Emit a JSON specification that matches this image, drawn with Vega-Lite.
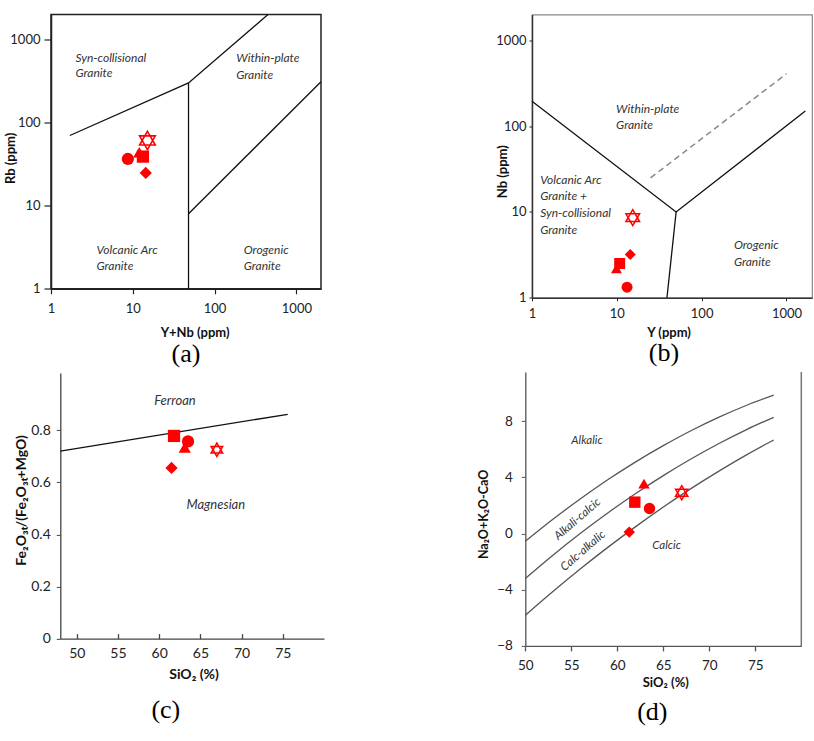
{
  "$schema": "https://vega.github.io/schema/vega-lite/v6.json",
  "padding": {"left": 3, "top": 10.5, "right": 0, "bottom": 0},
  "background": "white",
  "config": {
    "view": {"stroke": null},
    "axis": {"grid": false, "labelFlush": false, "labelFont": "Lato", "titleFont": "Lato", "titleFontWeight": "bold", "labelColor": "#222", "titleColor": "#111", "domainColor": "#222", "tickColor": "#222"},
    "title": {"font": "Liberation Serif", "fontSize": 26, "fontWeight": "normal", "color": "#000"}
  },
  "datasets": {
    "pts": [
      {"panel": "a", "s": "triangle", "x": 12, "y": 44},
      {"panel": "a", "s": "square", "x": 13.3, "y": 39},
      {"panel": "a", "s": "circle", "x": 8.7, "y": 36.5},
      {"panel": "a", "s": "diamond", "x": 14.4, "y": 24.8},
      {"panel": "a", "s": "star", "x": 15.1, "y": 61},
      {"panel": "b", "s": "triangle", "x": 9.9, "y": 2.19},
      {"panel": "b", "s": "square", "x": 10.8, "y": 2.51},
      {"panel": "b", "s": "circle", "x": 13.2, "y": 1.33},
      {"panel": "b", "s": "diamond", "x": 14.4, "y": 3.2},
      {"panel": "b", "s": "star", "x": 15.4, "y": 8.6},
      {"panel": "c", "s": "triangle", "x": 63.1, "y": 0.734},
      {"panel": "c", "s": "square", "x": 61.8, "y": 0.778},
      {"panel": "c", "s": "circle", "x": 63.5, "y": 0.757},
      {"panel": "c", "s": "diamond", "x": 61.5, "y": 0.655},
      {"panel": "c", "s": "star", "x": 67.0, "y": 0.725},
      {"panel": "d", "s": "triangle", "x": 62.9, "y": 3.55},
      {"panel": "d", "s": "square", "x": 61.9, "y": 2.23},
      {"panel": "d", "s": "circle", "x": 63.5, "y": 1.78},
      {"panel": "d", "s": "diamond", "x": 61.3, "y": 0.1},
      {"panel": "d", "s": "star", "x": 67.0, "y": 2.9}
    ],
    "lines": [
      {"panel": "a", "g": "a1", "o": 1, "x": 1.7, "y": 70},
      {"panel": "a", "g": "a1", "o": 2, "x": 48, "y": 300},
      {"panel": "a", "g": "a1", "o": 3, "x": 450, "y": 2000},
      {"panel": "a", "g": "a2", "o": 1, "x": 48, "y": 300},
      {"panel": "a", "g": "a2", "o": 2, "x": 48, "y": 1},
      {"panel": "a", "g": "a3", "o": 1, "x": 48, "y": 8},
      {"panel": "a", "g": "a3", "o": 2, "x": 2000, "y": 310},
      {"panel": "b", "g": "b1", "o": 1, "x": 1, "y": 195},
      {"panel": "b", "g": "b1", "o": 2, "x": 50, "y": 10},
      {"panel": "b", "g": "b1", "o": 3, "x": 1670, "y": 150},
      {"panel": "b", "g": "b2", "o": 1, "x": 50, "y": 10},
      {"panel": "b", "g": "b2", "o": 2, "x": 39, "y": 1},
      {"panel": "b", "g": "bd", "o": 1, "x": 25, "y": 25},
      {"panel": "b", "g": "bd", "o": 2, "x": 1000, "y": 408},
      {"panel": "c", "g": "c1", "o": 1, "x": 48, "y": 0.72},
      {"panel": "c", "g": "c1", "o": 2, "x": 75.6, "y": 0.861},
      {"panel": "d", "g": "d1", "o": 1, "x": 50, "y": -0.56},
      {"panel": "d", "g": "d1", "o": 2, "x": 53, "y": 1.01},
      {"panel": "d", "g": "d1", "o": 3, "x": 56, "y": 2.47},
      {"panel": "d", "g": "d1", "o": 4, "x": 59, "y": 3.84},
      {"panel": "d", "g": "d1", "o": 5, "x": 62, "y": 5.10},
      {"panel": "d", "g": "d1", "o": 6, "x": 65, "y": 6.25},
      {"panel": "d", "g": "d1", "o": 7, "x": 68, "y": 7.31},
      {"panel": "d", "g": "d1", "o": 8, "x": 71, "y": 8.26},
      {"panel": "d", "g": "d1", "o": 9, "x": 74, "y": 9.11},
      {"panel": "d", "g": "d1", "o": 10, "x": 77, "y": 9.85},
      {"panel": "d", "g": "d2", "o": 1, "x": 50, "y": -3.2},
      {"panel": "d", "g": "d2", "o": 2, "x": 53, "y": -1.54},
      {"panel": "d", "g": "d2", "o": 3, "x": 56, "y": 0.02},
      {"panel": "d", "g": "d2", "o": 4, "x": 59, "y": 1.48},
      {"panel": "d", "g": "d2", "o": 5, "x": 62, "y": 2.85},
      {"panel": "d", "g": "d2", "o": 6, "x": 65, "y": 4.12},
      {"panel": "d", "g": "d2", "o": 7, "x": 68, "y": 5.30},
      {"panel": "d", "g": "d2", "o": 8, "x": 71, "y": 6.39},
      {"panel": "d", "g": "d2", "o": 9, "x": 74, "y": 7.38},
      {"panel": "d", "g": "d2", "o": 10, "x": 77, "y": 8.27},
      {"panel": "d", "g": "d3", "o": 1, "x": 50, "y": -5.82},
      {"panel": "d", "g": "d3", "o": 2, "x": 53, "y": -4.13},
      {"panel": "d", "g": "d3", "o": 3, "x": 56, "y": -2.51},
      {"panel": "d", "g": "d3", "o": 4, "x": 59, "y": -0.97},
      {"panel": "d", "g": "d3", "o": 5, "x": 62, "y": 0.49},
      {"panel": "d", "g": "d3", "o": 6, "x": 65, "y": 1.88},
      {"panel": "d", "g": "d3", "o": 7, "x": 68, "y": 3.19},
      {"panel": "d", "g": "d3", "o": 8, "x": 71, "y": 4.42},
      {"panel": "d", "g": "d3", "o": 9, "x": 74, "y": 5.58},
      {"panel": "d", "g": "d3", "o": 10, "x": 77, "y": 6.65}
    ],
    "frame": [
      {"panel": "d", "x": 80, "y": -8, "y2": 11.5}
    ],
    "lab": [
      {"panel": "a", "x": 1.99, "y": 606, "t": "Syn-collisional"},
      {"panel": "a", "x": 1.99, "y": 392, "t": "Granite"},
      {"panel": "a", "x": 184, "y": 597, "t": "Within-plate"},
      {"panel": "a", "x": 184, "y": 374, "t": "Granite"},
      {"panel": "a", "x": 3.6, "y": 2.96, "t": "Volcanic Arc"},
      {"panel": "a", "x": 3.6, "y": 1.89, "t": "Granite"},
      {"panel": "a", "x": 227, "y": 2.96, "t": "Orogenic"},
      {"panel": "a", "x": 227, "y": 1.89, "t": "Granite"},
      {"panel": "b", "x": 9.8, "y": 159, "t": "Within-plate"},
      {"panel": "b", "x": 9.8, "y": 104, "t": "Granite"},
      {"panel": "b", "x": 1.25, "y": 23.5, "t": "Volcanic Arc"},
      {"panel": "b", "x": 1.25, "y": 15.2, "t": "Granite +"},
      {"panel": "b", "x": 1.25, "y": 9.6, "t": "Syn-collisional"},
      {"panel": "b", "x": 1.25, "y": 6.1, "t": "Granite"},
      {"panel": "b", "x": 240, "y": 4.09, "t": "Orogenic"},
      {"panel": "b", "x": 240, "y": 2.64, "t": "Granite"},
      {"panel": "c", "x": 59.4, "y": 0.913, "t": "Ferroan"},
      {"panel": "c", "x": 63.3, "y": 0.511, "t": "Magnesian"},
      {"panel": "d", "x": 55.0, "y": 6.56, "t": "Alkalic"},
      {"panel": "d", "x": 63.8, "y": -0.9, "t": "Calcic"},
      {"panel": "d", "x": 55.7, "y": 1.0, "t": "Alkali-calcic"},
      {"panel": "d", "x": 56.3, "y": -1.26, "t": "Calc-alkalic"}
    ]
  },
  "concat": [
    {
      "width": 270,
      "height": 274.3,
      "view": {"stroke": "#222", "strokeWidth": 1.5},
      "title": {"text": "(a)", "orient": "bottom", "anchor": "middle", "frame": "group", "offset": 1},
      "encoding": {
        "x": {"field": "x", "type": "quantitative", "scale": {"type": "log", "domain": [1, 2000], "nice": false},
          "axis": {"title": "Y+Nb (ppm)", "values": [1, 10, 100, 1000], "format": "d", "tickSize": 5, "labelPadding": 9, "labelFontSize": 13, "titleFontSize": 13, "titleX": 143.6, "titleY": 44, "titleBaseline": "middle", "titleAlign": "center", "domainWidth": 1.5, "tickWidth": 1.2}},
        "y": {"field": "y", "type": "quantitative", "scale": {"type": "log", "domain": [1, 2000], "nice": false},
          "axis": {"title": "Rb (ppm)", "values": [1, 10, 100, 1000], "format": "d", "tickSize": 7, "labelPadding": 4, "labelFontSize": 13, "titleFontSize": 13, "titleX": -40.7, "titleY": 143.4, "titleBaseline": "middle", "titleAlign": "center", "titleAngle": 270, "domainWidth": 1.5, "tickWidth": 1.2}}
      },
      "layer": [
        {"data": {"name": "lines"}, "transform": [{"filter": "datum.panel == 'a'"}], "mark": {"type": "line", "color": "#111", "strokeWidth": 1.3}, "encoding": {"detail": {"field": "g"}, "order": {"field": "o"}}},
        {"data": {"name": "lab"}, "transform": [{"filter": "datum.panel == 'a'"}], "mark": {"type": "text", "align": "left", "baseline": "middle", "fontSize": 12, "font": "Lato", "fontStyle": "italic", "color": "#333"}, "encoding": {"text": {"field": "t"}}},
        {"data": {"name": "pts"}, "transform": [{"filter": "datum.panel == 'a' && datum.s != 'star'"}], "mark": {"type": "point", "filled": true, "color": "#ff0000", "size": 150, "opacity": 1},
          "encoding": {"shape": {"field": "s", "type": "nominal", "scale": {"domain": ["circle", "square", "triangle", "diamond"], "range": ["circle", "square", "triangle-up", "diamond"]}, "legend": null}}},
        {"data": {"name": "pts"}, "transform": [{"filter": "datum.panel == 'a' && datum.s == 'star'"}], "mark": {"type": "point", "filled": false, "shape": "M0,-1L0.866,0.5L-0.866,0.5Z M0,1L0.866,-0.5L-0.866,-0.5Z", "color": "#ff0000", "strokeWidth": 1.6, "size": 330, "opacity": 1}}
      ]
    },
    {
      "width": 280,
      "height": 283.3,
      "view": {"stroke": "#888", "strokeWidth": 1.2},
      "title": {"text": "(b)", "orient": "bottom", "anchor": "middle", "frame": "group", "offset": 1, "dx": -8},
      "encoding": {
        "x": {"field": "x", "type": "quantitative", "scale": {"type": "log", "domain": [1, 2000], "nice": false},
          "axis": {"title": "Y (ppm)", "values": [1, 10, 100, 1000], "format": "d", "tickSize": 3, "labelPadding": 7, "labelFontSize": 13, "titleFontSize": 13, "titleX": 136.6, "titleY": 34.3, "titleBaseline": "middle", "titleAlign": "center", "domainWidth": 1.5, "domainColor": "#333"}},
        "y": {"field": "y", "type": "quantitative", "scale": {"type": "log", "domain": [1, 2000], "nice": false},
          "axis": {"title": "Nb (ppm)", "values": [1, 10, 100, 1000], "format": "d", "tickSize": 3, "labelPadding": 3, "labelFontSize": 13, "titleFontSize": 13, "titleX": -30, "titleY": 156.7, "titleBaseline": "middle", "titleAlign": "center", "titleAngle": 270, "domainWidth": 1.5, "domainColor": "#333"}}
      },
      "layer": [
        {"data": {"name": "lines"}, "transform": [{"filter": "datum.panel == 'b' && datum.g != 'bd'"}], "mark": {"type": "line", "color": "#111", "strokeWidth": 1.3}, "encoding": {"detail": {"field": "g"}, "order": {"field": "o"}}},
        {"data": {"name": "lines"}, "transform": [{"filter": "datum.g == 'bd'"}], "mark": {"type": "line", "color": "#888", "strokeWidth": 1.5, "strokeDash": [6, 4]}, "encoding": {"order": {"field": "o"}}},
        {"data": {"name": "lab"}, "transform": [{"filter": "datum.panel == 'b'"}], "mark": {"type": "text", "align": "left", "baseline": "middle", "fontSize": 12, "font": "Lato", "fontStyle": "italic", "color": "#333"}, "encoding": {"text": {"field": "t"}}},
        {"data": {"name": "pts"}, "transform": [{"filter": "datum.panel == 'b' && datum.s != 'star'"}], "mark": {"type": "point", "filled": true, "color": "#ff0000", "size": 120, "opacity": 1},
          "encoding": {"shape": {"field": "s", "type": "nominal", "scale": {"domain": ["circle", "square", "triangle", "diamond"], "range": ["circle", "square", "triangle-up", "diamond"]}, "legend": null}}},
        {"data": {"name": "pts"}, "transform": [{"filter": "datum.panel == 'b' && datum.s == 'star'"}], "mark": {"type": "point", "filled": false, "shape": "M0,-1L0.866,0.5L-0.866,0.5Z M0,1L0.866,-0.5L-0.866,-0.5Z", "color": "#ff0000", "strokeWidth": 1.5, "size": 250, "opacity": 1}}
      ]
    },
    {
      "width": 273,
      "height": 266.7,
      "title": {"text": "(c)", "orient": "bottom", "anchor": "middle", "frame": "group", "offset": 15, "dx": -21.7},
      "encoding": {
        "x": {"field": "x", "type": "quantitative", "scale": {"domain": [48, 80], "nice": false, "zero": false, "range": [9.3, 273]},
          "axis": {"title": "SiO₂ (%)", "values": [50, 55, 60, 65, 70, 75], "tickSize": -5, "labelPadding": 13, "labelFontSize": 14, "titleFontSize": 14, "titleX": 142.6, "titleY": 36.3, "titleBaseline": "middle", "titleAlign": "center", "domainColor": "#444", "tickColor": "#444", "domainWidth": 1.3, "tickWidth": 1.3}},
        "y": {"field": "y", "type": "quantitative", "scale": {"domain": [0, 1.02], "nice": false, "range": [266.7, 1]},
          "axis": {"title": "Fe₂O₃ₜ/(Fe₂O₃ₜ+MgO)", "values": [0, 0.2, 0.4, 0.6, 0.8], "format": ".1~f", "offset": -9.3, "tickSize": 4, "labelPadding": 6, "labelFontSize": 14, "titleFontSize": 14, "titleX": -39.3, "titleY": 128, "titleBaseline": "middle", "titleAlign": "center", "titleAngle": 270, "domainColor": "#444", "tickColor": "#444", "domainWidth": 1.3}}
      },
      "layer": [
        {"data": {"name": "lines"}, "transform": [{"filter": "datum.panel == 'c'"}], "mark": {"type": "line", "color": "#111", "strokeWidth": 1.3}, "encoding": {"order": {"field": "o"}}},
        {"data": {"name": "lab"}, "transform": [{"filter": "datum.panel == 'c'"}], "mark": {"type": "text", "align": "left", "baseline": "middle", "fontSize": 13, "font": "Lato", "fontStyle": "italic", "color": "#333"}, "encoding": {"text": {"field": "t"}}},
        {"data": {"name": "pts"}, "transform": [{"filter": "datum.panel == 'c' && datum.s != 'star'"}], "mark": {"type": "point", "filled": true, "color": "#ff0000", "size": 150, "opacity": 1},
          "encoding": {"shape": {"field": "s", "type": "nominal", "scale": {"domain": ["circle", "square", "triangle", "diamond"], "range": ["circle", "square", "triangle-up", "diamond"]}, "legend": null}}},
        {"data": {"name": "pts"}, "transform": [{"filter": "datum.panel == 'c' && datum.s == 'star'"}], "mark": {"type": "point", "filled": false, "shape": "M0,-1L0.866,0.5L-0.866,0.5Z M0,1L0.866,-0.5L-0.866,-0.5Z", "color": "#ff0000", "strokeWidth": 1.5, "size": 180, "opacity": 1}}
      ]
    },
    {
      "width": 270,
      "height": 274,
      "title": {"text": "(d)", "orient": "bottom", "anchor": "middle", "frame": "group", "offset": 9, "dx": -14.7},
      "encoding": {
        "x": {"field": "x", "type": "quantitative", "scale": {"domain": [50, 80], "nice": false, "zero": false, "range": [-6.7, 269.3]},
          "axis": {"title": "SiO₂ (%)", "values": [50, 55, 60, 65, 70, 75], "tickSize": 5, "labelPadding": 8, "labelFontSize": 13.5, "titleFontSize": 13, "titleX": 133.3, "titleY": 36.7, "titleBaseline": "middle", "titleAlign": "center", "domainColor": "#555", "tickColor": "#555", "domainWidth": 1.3, "tickWidth": 1.3}},
        "y": {"field": "y", "type": "quantitative", "scale": {"domain": [-8, 11.5], "nice": false, "zero": false},
          "axis": {"title": "Na₂O+K₂O-CaO", "values": [-8, -4, 0, 4, 8], "offset": 6.7, "tickSize": 4, "labelPadding": 9, "labelFontSize": 13.5, "titleFontSize": 12.5, "titleX": -41.7, "titleY": 142, "titleBaseline": "middle", "titleAlign": "center", "titleAngle": 270, "domainColor": "#555", "tickColor": "#555", "domainWidth": 1.3}}
      },
      "layer": [
        {"data": {"name": "lines"}, "transform": [{"filter": "datum.panel == 'd'"}], "mark": {"type": "line", "color": "#555", "strokeWidth": 1.3, "interpolate": "monotone"}, "encoding": {"detail": {"field": "g"}}},
        {"data": {"name": "frame"}, "mark": {"type": "rule", "color": "#777", "strokeWidth": 1.5}, "encoding": {"y2": {"field": "y2"}}},
        {"data": {"name": "lab"}, "transform": [{"filter": "datum.panel == 'd' && (datum.t == 'Alkalic' || datum.t == 'Calcic')"}], "mark": {"type": "text", "align": "left", "baseline": "middle", "fontSize": 11.5, "font": "Lato", "fontStyle": "italic", "color": "#333"}, "encoding": {"text": {"field": "t"}}},
        {"data": {"name": "lab"}, "transform": [{"filter": "datum.panel == 'd' && datum.t != 'Alkalic' && datum.t != 'Calcic'"}], "mark": {"type": "text", "align": "center", "baseline": "middle", "fontSize": 11.5, "angle": 319, "font": "Lato", "fontStyle": "italic", "color": "#333"}, "encoding": {"text": {"field": "t"}}},
        {"data": {"name": "pts"}, "transform": [{"filter": "datum.panel == 'd' && datum.s != 'star'"}], "mark": {"type": "point", "filled": true, "color": "#ff0000", "size": 130, "opacity": 1},
          "encoding": {"shape": {"field": "s", "type": "nominal", "scale": {"domain": ["circle", "square", "triangle", "diamond"], "range": ["circle", "square", "triangle-up", "diamond"]}, "legend": null}}},
        {"data": {"name": "pts"}, "transform": [{"filter": "datum.panel == 'd' && datum.s == 'star'"}], "mark": {"type": "point", "filled": false, "shape": "M0,-1L0.866,0.5L-0.866,0.5Z M0,1L0.866,-0.5L-0.866,-0.5Z", "color": "#ff0000", "strokeWidth": 1.5, "size": 200, "opacity": 1}}
      ]
    }
  ],
  "columns": 2,
  "bounds": "flush",
  "align": "each",
  "spacing": {"row": 73.4, "column": 208}
}
